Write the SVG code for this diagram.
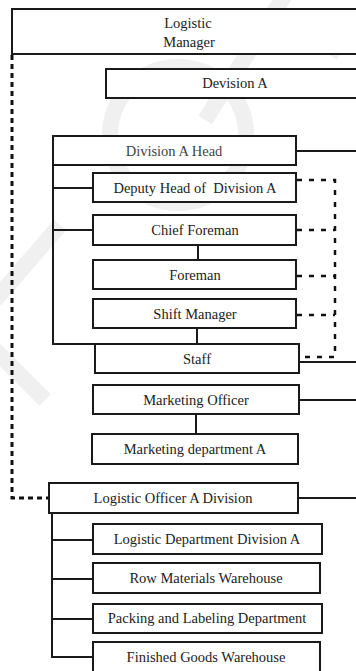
<svg xmlns="http://www.w3.org/2000/svg" width="356" height="671" viewBox="0 0 356 671">
  <style>
    .box { fill: #ffffff; stroke: #1a1a1a; stroke-width: 2; }
    .lbl { font-family: 'Liberation Serif', 'DejaVu Serif', serif; font-size: 14.5px; fill: #222222; text-anchor: middle; }
    .line { fill: none; stroke: #1a1a1a; stroke-width: 2; }
    .dash-main { fill: none; stroke: #111111; stroke-width: 3; stroke-dasharray: 5 4; }
    .dash-side { fill: none; stroke: #111111; stroke-width: 2.5; stroke-dasharray: 5 7; }
    .mark { fill: none; stroke: #f0f0f0; stroke-width: 16; }
  </style>
  <rect width="356" height="671" fill="#ffffff"/>

  <!-- faint background stamp -->
  <g id="stamp">
    <circle class="mark" cx="178" cy="135" r="68"/>
    <path class="mark" d="M285 -5 L205 120"/>
    <path class="mark" d="M356 20 L330 55"/>
    <path class="mark" d="M-5 300 L60 225"/>
    <path class="mark" d="M-5 350 L45 400"/>
  </g>

  <!-- connectors -->
  <g id="connectors">
    <!-- Division A Head branch -->
    <path class="line" d="M296 151 H356"/>
    <path class="line" d="M53 165 V344 H95"/>
    <path class="line" d="M53 188 H93"/>
    <path class="line" d="M53 230 H93"/>
    <path class="line" d="M198 245 V260"/>
    <path class="line" d="M197 328 V344"/>
    <path class="line" d="M299 362 H356"/>
    <!-- dashed bracket on the right -->
    <path class="dash-side" d="M297 180 H335 V357 H299"/>
    <path class="dash-side" d="M297 230 H335"/>
    <path class="dash-side" d="M297 276 H335"/>
    <path class="dash-side" d="M297 315 H335"/>
    <!-- Marketing -->
    <path class="line" d="M299 400 H356"/>
    <path class="line" d="M196 414 V434"/>
    <!-- Logistic Manager dashed line -->
    <path class="dash-main" d="M12 55 V498 H49"/>
    <!-- Logistic Officer branch -->
    <path class="line" d="M298 498 H356"/>
    <path class="line" d="M52 513 V657 H93"/>
    <path class="line" d="M52 540 H93"/>
    <path class="line" d="M52 579 H93"/>
    <path class="line" d="M52 619 H93"/>
  </g>

  <g id="logistic-manager">
    <rect class="box" x="12" y="9" width="360" height="45"/>
    <text class="lbl" x="188" y="28">Logistic</text>
    <text class="lbl" x="189" y="47">Manager</text>
  </g>
  <g id="division-a">
    <rect class="box" x="106" y="69" width="266" height="29"/>
    <text class="lbl" x="235" y="88">Devision  A</text>
  </g>
  <g id="division-a-head">
    <rect class="box" x="53" y="136" width="243" height="29"/>
    <text class="lbl" x="174" y="156" style="fill:#444444">Division A Head</text>
  </g>
  <g id="deputy-head">
    <rect class="box" x="93" y="173" width="203" height="29"/>
    <text class="lbl" x="195" y="193" xml:space="preserve">Deputy Head of  Division A</text>
  </g>
  <g id="chief-foreman">
    <rect class="box" x="93" y="215" width="203" height="30"/>
    <text class="lbl" x="195" y="235">Chief Foreman</text>
  </g>
  <g id="foreman">
    <rect class="box" x="93" y="260" width="203" height="29"/>
    <text class="lbl" x="195" y="280">Foreman</text>
  </g>
  <g id="shift-manager">
    <rect class="box" x="93" y="299" width="203" height="29"/>
    <text class="lbl" x="195" y="319">Shift Manager</text>
  </g>
  <g id="staff">
    <rect class="box" x="95" y="344" width="204" height="29"/>
    <text class="lbl" x="197" y="364">Staff</text>
  </g>
  <g id="marketing-officer">
    <rect class="box" x="93" y="385" width="206" height="29"/>
    <text class="lbl" x="196" y="405">Marketing Officer</text>
  </g>
  <g id="marketing-department">
    <rect class="box" x="92" y="434" width="206" height="30"/>
    <text class="lbl" x="195" y="454">Marketing department A</text>
  </g>
  <g id="logistic-officer">
    <rect class="box" x="49" y="483" width="249" height="30"/>
    <text class="lbl" x="173" y="503">Logistic Officer A Division</text>
  </g>
  <g id="logistic-department">
    <rect class="box" x="93" y="524" width="229" height="30"/>
    <text class="lbl" x="207" y="544">Logistic Department Division A</text>
  </g>
  <g id="raw-materials">
    <rect class="box" x="93" y="563" width="227" height="30"/>
    <text class="lbl" x="206" y="583">Row Materials Warehouse</text>
  </g>
  <g id="packing-labeling">
    <rect class="box" x="93" y="604" width="229" height="29"/>
    <text class="lbl" x="207" y="623">Packing and Labeling Department</text>
  </g>
  <g id="finished-goods">
    <rect class="box" x="93" y="642" width="227" height="34"/>
    <text class="lbl" x="206" y="662">Finished Goods Warehouse</text>
  </g>
</svg>
